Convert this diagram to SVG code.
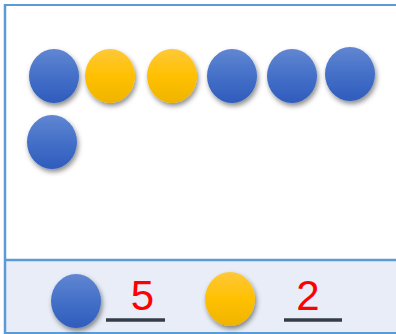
<svg xmlns="http://www.w3.org/2000/svg" width="396" height="334" viewBox="0 0 396 334">
<defs>
<linearGradient id="gBlue" x1="0" y1="0" x2="0" y2="1">
<stop offset="0" stop-color="#6186d2"/>
<stop offset="0.5" stop-color="#4470c8"/>
<stop offset="1" stop-color="#2f5cbc"/>
</linearGradient>
<linearGradient id="gYellow" x1="0" y1="0" x2="0" y2="1">
<stop offset="0" stop-color="#ffc83a"/>
<stop offset="0.5" stop-color="#ffc000"/>
<stop offset="1" stop-color="#efb400"/>
</linearGradient>
<filter id="shadow" x="-30%" y="-30%" width="170%" height="170%">
<feDropShadow dx="1.5" dy="3" stdDeviation="2.5" flood-color="#000" flood-opacity="0.45"/>
</filter>
</defs>
<style>
.blue{fill:url(#gBlue);filter:url(#shadow)}
.yellow{fill:url(#gYellow);filter:url(#shadow)}
.num{font-family:"Liberation Sans",Arial,sans-serif;font-size:42px;fill:#ff0000;text-anchor:middle}
.blank{stroke:#343d46;stroke-width:3.5}
</style>
<rect x="0" y="0" width="396" height="334" fill="#ffffff"/>
<g id="frame">
<rect x="5" y="259.5" width="395" height="74" fill="#e8edf7"/>
<line x1="5" y1="260" x2="396" y2="260" stroke="#5b9bd5" stroke-width="2.5"/>
<line x1="4" y1="5" x2="396" y2="5" stroke="#5b9bd5" stroke-width="2"/>
<line x1="5" y1="4" x2="5" y2="334" stroke="#5b9bd5" stroke-width="2.5"/>
<line x1="4" y1="333" x2="396" y2="333" stroke="#5b9bd5" stroke-width="2"/>
</g>
<g id="counters">
<ellipse class="blue" cx="54" cy="76" rx="25" ry="27"/>
<ellipse class="yellow" cx="110" cy="76" rx="25" ry="27"/>
<ellipse class="yellow" cx="172" cy="76" rx="25" ry="27"/>
<ellipse class="blue" cx="232" cy="76" rx="25" ry="27"/>
<ellipse class="blue" cx="292" cy="76" rx="25" ry="27"/>
<ellipse class="blue" cx="350" cy="74" rx="25" ry="27"/>
<ellipse class="blue" cx="52" cy="142" rx="25" ry="27"/>
</g>
<g id="legend-blue">
<ellipse class="blue" cx="76" cy="301" rx="25" ry="27"/>
<line class="blank" x1="106" y1="320" x2="165" y2="320"/>
<text class="num" x="142.5" y="310">5</text>
</g>
<g id="legend-yellow">
<ellipse class="yellow" cx="230" cy="299" rx="25" ry="27"/>
<line class="blank" x1="284" y1="320" x2="342" y2="320"/>
<text class="num" x="308" y="310">2</text>
</g>
</svg>
